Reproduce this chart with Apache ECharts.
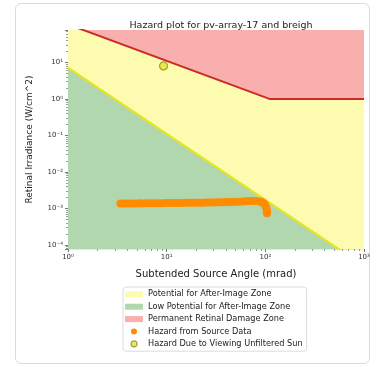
<!DOCTYPE html>
<html><head><meta charset="utf-8">
<script src="https://cdn.jsdelivr.net/npm/echarts@6/dist/echarts.min.js"></script>
<style>
html,body{margin:0;padding:0;background:#fff;}
#card{position:absolute;left:15px;top:3px;width:355px;height:361px;border:1px solid #dcdcdc;border-radius:6px;box-sizing:border-box;}
#chart{position:absolute;left:0;top:0;width:382px;height:367px;}
</style></head><body>
<div id="card"></div><div id="chart"></div>
<script>
const titleText = 'Hazard plot for pv-array-17 and breigh';
const xAxisName = 'Subtended Source Angle (mrad)';
const yAxisName = 'Retinal Irradiance (W/cm^2)';
const xTickLabels = {'0':'10⁰','1':'10¹','2':'10²','3':'10³'};
const yTickLabels = {'-4':'10⁻⁴','-3':'10⁻³','-2':'10⁻²','-1':'10⁻¹','0':'10⁰','1':'10¹'};
const xRange = [1, 1000];
const yRange = [7.8e-5, 77];
const zoneNames = ['Potential for After-Image Zone','Low Potential for After-Image Zone','Permanent Retinal Damage Zone'];
const pointNames = ['Hazard from Source Data','Hazard Due to Viewing Unfiltered Sun'];
// boundary between low potential and after-image zones
const afterImageAngle = [1, 10, 100, 1000];
const afterImageIrr = [7.16, 0.111, 1.72e-3, 2.66e-5];
// retinal damage threshold
const burnAngle = [1, 110, 1000];
const burnIrr = [110, 1, 1];
// source data
const sourceAngle = [3.4,3.6,3.9,4.2,4.5,4.9,5.3,5.7,6.2,6.7,7.2,7.8,8.4,9.1,9.8,10.6,11.5,12.4,13.4,14.5,15.7,17.0,18.4,19.9,21.5,23.3,25.2,27.2,29.4,31.8,34.4,37.2,40.2,43.5,47.0,50.8,54.9,59.4,64.2,69.4,75.0,81.1,87.0,92.0,96.0,99.0,101.0,102.5,103.5,104.0,104.2];
const sourceIrr = [1.38e-3,1.38e-3,1.38e-3,1.37e-3,1.38e-3,1.38e-3,1.39e-3,1.38e-3,1.39e-3,1.39e-3,1.39e-3,1.40e-3,1.40e-3,1.40e-3,1.41e-3,1.41e-3,1.41e-3,1.42e-3,1.42e-3,1.42e-3,1.43e-3,1.43e-3,1.44e-3,1.44e-3,1.45e-3,1.45e-3,1.46e-3,1.46e-3,1.47e-3,1.48e-3,1.48e-3,1.49e-3,1.50e-3,1.51e-3,1.52e-3,1.53e-3,1.54e-3,1.56e-3,1.58e-3,1.60e-3,1.61e-3,1.60e-3,1.56e-3,1.50e-3,1.40e-3,1.28e-3,1.15e-3,1.02e-3,0.90e-3,0.80e-3,0.74e-3];
// sun
const sunAngle = [9.3];
const sunIrr = [8.0];

const zip = (a, b) => a.map((v, i) => [v, b[i]]);
const FONT = 'DejaVu Sans';
const COL = {yellowZone:'#fdfbb0', greenZone:'#b1d7ae', redZone:'#f8afae', redLine:'#cc2b26', yellowLine:'#e6e620', orange:'#ff8c00', sun:'#e4e43a', sunEdge:'#8b8b1a'};

function logLabel(map) {
  return function (v) {
    const l = Math.log10(v), e = Math.round(l);
    if (Math.abs(l - e) > 1e-6) return '';
    return map[String(e)] || '';
  };
}

const chart = echarts.init(document.getElementById('chart'), null, {renderer:'canvas'});
chart.setOption({
  animation: false,
  textStyle: {fontFamily: FONT},
  title: {text: titleText, left: 216, textAlign: 'center', top: 16,
    textStyle: {fontFamily: FONT, fontSize: 9.5, fontWeight: 'normal', color: '#222'}},
  grid: {left: 68, right: 18, top: 30, bottom: 118},
  xAxis: {type: 'log', logBase: 10, min: xRange[0], max: xRange[1],
    name: xAxisName, nameLocation: 'middle', nameGap: 20,
    nameTextStyle: {fontFamily: FONT, fontSize: 10, color: '#222'},
    axisLine: {show: false},
    axisTick: {show: true, length: 3, lineStyle: {color: '#777'}},
    minorTick: {show: true, splitNumber: 9, length: 2, lineStyle: {color: '#999'}},
    splitLine: {show: false},
    axisLabel: {formatter: logLabel(xTickLabels), fontSize: 7, color: '#333', margin: 5, showMinLabel: true, showMaxLabel: true}
  },
  yAxis: {type: 'log', logBase: 10, min: yRange[0], max: yRange[1],
    name: yAxisName, nameLocation: 'middle', nameGap: 34,
    nameTextStyle: {fontFamily: FONT, fontSize: 9, color: '#222'},
    axisLine: {show: false},
    axisTick: {show: true, length: 3, lineStyle: {color: '#777'}},
    minorTick: {show: true, splitNumber: 9, length: 2, lineStyle: {color: '#999'}},
    splitLine: {show: true, lineStyle: {color: 'rgba(120,120,120,0.18)', width: 1}},
    axisLabel: {formatter: logLabel(yTickLabels), fontSize: 7, color: '#333', margin: 5}
  },
  legend: {
    orient: 'vertical', left: 123, top: 287,
    itemWidth: 18, itemHeight: 6, itemGap: 3.8,
    padding: [3, 4, 3, 2],
    borderColor: '#dcdcdc', borderWidth: 1, borderRadius: 3, backgroundColor: '#fff',
    textStyle: {fontFamily: FONT, fontSize: 8.2, color: '#222', lineHeight: 8.6},
    data: [
      {name: zoneNames[0], icon: 'rect', itemStyle: {color: COL.yellowZone, borderWidth: 0}},
      {name: zoneNames[1], icon: 'rect', itemStyle: {color: COL.greenZone, borderWidth: 0}},
      {name: zoneNames[2], icon: 'rect', itemStyle: {color: COL.redZone, borderWidth: 0}},
      {name: pointNames[0], icon: 'circle', itemStyle: {color: COL.orange, borderWidth: 0}},
      {name: pointNames[1], icon: 'circle', itemStyle: {color: COL.sun, borderColor: COL.sunEdge, borderWidth: 1.2}}
    ]
  },
  series: [
    {name: zoneNames[0], type: 'line', data: zip(burnAngle, burnIrr), symbol: 'none', z: 1,
      itemStyle: {color: COL.yellowZone}, lineStyle: {width: 0, opacity: 0},
      areaStyle: {origin: 'start', color: COL.yellowZone, opacity: 1}},
    {name: zoneNames[1], type: 'line', data: zip(afterImageAngle, afterImageIrr), symbol: 'none', z: 2,
      itemStyle: {color: COL.greenZone}, lineStyle: {width: 0, opacity: 0},
      areaStyle: {origin: 'start', color: COL.greenZone, opacity: 1}},
    {name: zoneNames[2], type: 'line', data: zip(burnAngle, burnIrr), symbol: 'none', z: 2,
      itemStyle: {color: COL.redZone}, lineStyle: {width: 0, opacity: 0},
      areaStyle: {origin: 'end', color: COL.redZone, opacity: 1}},
    {name: 'burn-line', type: 'line', data: zip(burnAngle, burnIrr), symbol: 'none', z: 3,
      lineStyle: {color: COL.redLine, width: 2}},
    {name: 'afterimage-line', type: 'line', data: zip(afterImageAngle, afterImageIrr), symbol: 'none', z: 3,
      lineStyle: {color: COL.yellowLine, width: 2.2}},
    {name: pointNames[0], type: 'scatter', data: zip(sourceAngle, sourceIrr), symbol: 'circle', symbolSize: 8, z: 4,
      itemStyle: {color: COL.orange, opacity: 1}},
    {name: pointNames[1], type: 'scatter', data: zip(sunAngle, sunIrr), symbol: 'circle', symbolSize: 8, z: 5,
      itemStyle: {color: COL.sun, borderColor: COL.sunEdge, borderWidth: 1.2}}
  ]
});
</script>
</body></html>
